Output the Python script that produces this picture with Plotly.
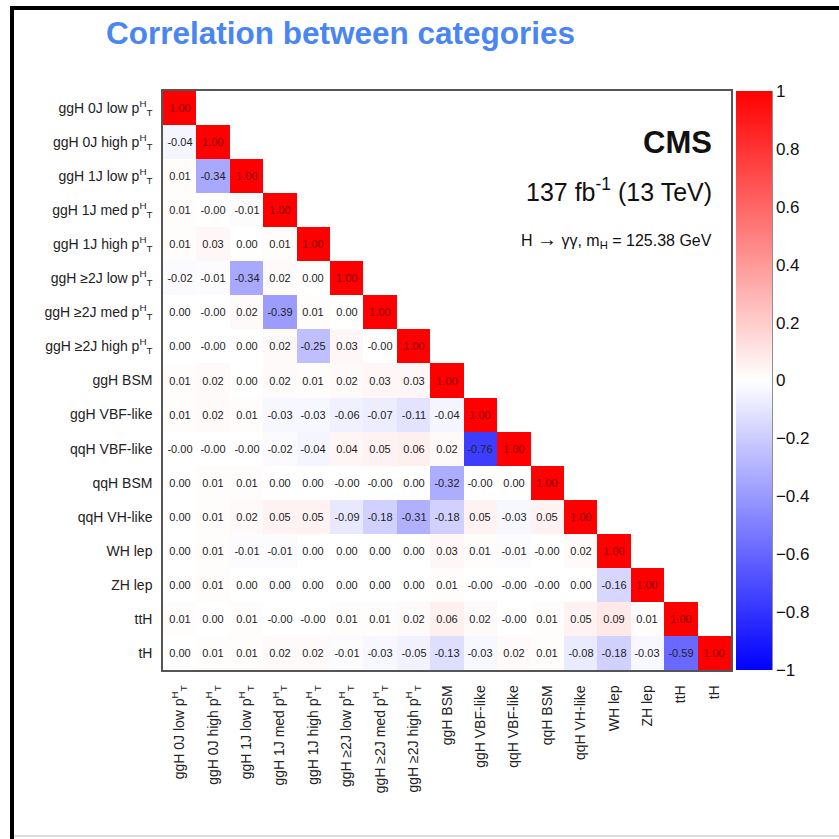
import plotly.graph_objects as go

# Category names (rows top-to-bottom, columns left-to-right)
categories = [
    "ggH 0J low p<sup>H</sup><sub>T</sub>",
    "ggH 0J high p<sup>H</sup><sub>T</sub>",
    "ggH 1J low p<sup>H</sup><sub>T</sub>",
    "ggH 1J med p<sup>H</sup><sub>T</sub>",
    "ggH 1J high p<sup>H</sup><sub>T</sub>",
    "ggH ≥2J low p<sup>H</sup><sub>T</sub>",
    "ggH ≥2J med p<sup>H</sup><sub>T</sub>",
    "ggH ≥2J high p<sup>H</sup><sub>T</sub>",
    "ggH BSM",
    "ggH VBF-like",
    "qqH VBF-like",
    "qqH BSM",
    "qqH VH-like",
    "WH lep",
    "ZH lep",
    "ttH",
    "tH",
]

# Lower-triangular correlation rows (-0.001 marks values that round to -0.00)
row_ggH0J_low = [1.00]
row_ggH0J_high = [-0.04, 1.00]
row_ggH1J_low = [0.01, -0.34, 1.00]
row_ggH1J_med = [0.01, -0.001, -0.01, 1.00]
row_ggH1J_high = [0.01, 0.03, 0.00, 0.01, 1.00]
row_ggH2J_low = [-0.02, -0.01, -0.34, 0.02, 0.00, 1.00]
row_ggH2J_med = [0.00, -0.001, 0.02, -0.39, 0.01, 0.00, 1.00]
row_ggH2J_high = [0.00, -0.001, 0.00, 0.02, -0.25, 0.03, -0.001, 1.00]
row_ggH_BSM = [0.01, 0.02, 0.00, 0.02, 0.01, 0.02, 0.03, 0.03, 1.00]
row_ggH_VBF = [0.01, 0.02, 0.01, -0.03, -0.03, -0.06, -0.07, -0.11, -0.04, 1.00]
row_qqH_VBF = [-0.001, -0.001, -0.001, -0.02, -0.04, 0.04, 0.05, 0.06, 0.02, -0.76, 1.00]
row_qqH_BSM = [0.00, 0.01, 0.01, 0.00, 0.00, -0.001, -0.001, 0.00, -0.32, -0.001, 0.00, 1.00]
row_qqH_VH = [0.00, 0.01, 0.02, 0.05, 0.05, -0.09, -0.18, -0.31, -0.18, 0.05, -0.03, 0.05, 1.00]
row_WH_lep = [0.00, 0.01, -0.01, -0.01, 0.00, 0.00, 0.00, 0.00, 0.03, 0.01, -0.01, -0.001, 0.02, 1.00]
row_ZH_lep = [0.00, 0.01, 0.00, 0.00, 0.00, 0.00, 0.00, 0.00, 0.01, -0.001, -0.001, -0.001, 0.00, -0.16, 1.00]
row_ttH = [0.01, 0.00, 0.01, -0.001, -0.001, 0.01, 0.01, 0.02, 0.06, 0.02, -0.001, 0.01, 0.05, 0.09, 0.01, 1.00]
row_tH = [0.00, 0.01, 0.01, 0.02, 0.02, -0.01, -0.03, -0.05, -0.13, -0.03, 0.02, 0.01, -0.08, -0.18, -0.03, -0.59, 1.00]

rows = [row_ggH0J_low, row_ggH0J_high, row_ggH1J_low, row_ggH1J_med, row_ggH1J_high,
        row_ggH2J_low, row_ggH2J_med, row_ggH2J_high, row_ggH_BSM, row_ggH_VBF,
        row_qqH_VBF, row_qqH_BSM, row_qqH_VH, row_WH_lep, row_ZH_lep, row_ttH, row_tH]

colorbar_ticks = [1, 0.8, 0.6, 0.4, 0.2, 0, -0.2, -0.4, -0.6, -0.8, -1]

n = len(categories)
z = [[r[j] if j < len(r) else None for j in range(n)] for r in rows]
# off-diagonal labels on the main map, diagonal labels on a separate overlay
text_off = [[(f"{r[j]:.2f}" if j < len(r) - 1 else "") for j in range(n)] for r in rows]
z_diag = [[(r[j] if j == len(r) - 1 else None) for j in range(n)] for r in rows]
text_diag = [[(f"{r[j]:.2f}" if j == len(r) - 1 else "") for j in range(n)] for r in rows]

# Plot area in pixels
W = H = 839
L, R, T, B = 163, 731, 91, 670


def px(x):
    return (x - L) / (R - L)


def py(y):
    return (B - y) / (B - T)


cscale = [[0, "rgb(0,0,255)"], [0.5, "rgb(255,255,255)"], [1, "rgb(255,0,0)"]]
cell_font = "Liberation Sans, Arial"

fig = go.Figure()
fig.add_trace(go.Heatmap(
    x=categories, y=categories, z=z,
    zmin=-1, zmax=1, colorscale=cscale,
    text=text_off, texttemplate="%{text}",
    textfont=dict(size=11, color="#222222", family=cell_font),
    hoverongaps=False,
    colorbar=dict(
        x=px(736), xanchor="left", y=0.5, yanchor="middle",
        len=1, lenmode="fraction", thickness=36, thicknessmode="pixels",
        xpad=0, ypad=0, outlinewidth=0,
        tickvals=colorbar_ticks,
        ticktext=[("−" + str(abs(t)) if t < 0 else str(t)) for t in colorbar_ticks],
        ticks="", tickfont=dict(size=17, color="#111", family=cell_font),
    ),
))
fig.add_trace(go.Heatmap(
    x=categories, y=categories, z=z_diag,
    zmin=-1, zmax=1, colorscale=cscale, showscale=False,
    text=text_diag, texttemplate="%{text}",
    textfont=dict(size=11, color="#8a0000", family=cell_font),
    hoverongaps=False,
))

axis_common = dict(
    type="category", showgrid=False, zeroline=False,
    showline=True, mirror=True, linecolor="#555", linewidth=1.5,
    ticks="", tickfont=dict(size=14, color="#222", family=cell_font),
)
fig.update_xaxes(**axis_common, tickangle=-90, categoryorder="array",
                 categoryarray=categories, ticklabelstandoff=8,
                 range=[-0.5, n - 0.5], autorange=False)
fig.update_yaxes(**axis_common, categoryorder="array",
                 categoryarray=categories, ticklabelstandoff=6,
                 range=[n - 0.5, -0.5], autorange=False)

fig.update_layout(
    width=W, height=H,
    margin=dict(l=L, r=W - R, t=T, b=H - B, pad=0),
    paper_bgcolor="white", plot_bgcolor="white",
    showlegend=False,
    font=dict(family=cell_font),
    title=dict(
        text="<b>Correlation between categories</b>",
        x=106 / W, xanchor="left", xref="container",
        y=1 - 33 / H, yanchor="middle", yref="container",
        font=dict(size=31.5, color="#4a86f2", family=cell_font),
    ),
    annotations=[
        dict(text="<b>CMS</b>", x=px(714), y=py(143), xref="paper", yref="paper",
             xanchor="right", yanchor="middle", showarrow=False,
             font=dict(size=31, color="#111")),
        dict(text="137 fb<sup>-1</sup> (13 TeV)", x=px(714), y=py(190), xref="paper", yref="paper",
             xanchor="right", yanchor="middle", showarrow=False,
             font=dict(size=25, color="#111")),
        dict(text="H <span style='font-size:20px'>→</span> γγ, m<sub>H</sub> = 125.38 GeV",
             x=px(714), y=py(240), xref="paper", yref="paper",
             xanchor="right", yanchor="middle", showarrow=False,
             font=dict(size=16, color="#111")),
    ],
    shapes=[
        # outer frame
        dict(type="line", xref="paper", yref="paper", x0=px(12), x1=px(12), y0=py(6), y1=py(839),
             line=dict(color="black", width=4)),
        dict(type="line", xref="paper", yref="paper", x0=px(10), x1=px(839), y0=py(8), y1=py(8),
             line=dict(color="black", width=4)),
        dict(type="line", xref="paper", yref="paper", x0=px(14), x1=px(839), y0=py(836), y1=py(836),
             line=dict(color="#d0d0d0", width=1.5)),
        # colour scale axis line
        dict(type="line", xref="paper", yref="paper", x0=px(772), x1=px(772), y0=0, y1=1,
             line=dict(color="#222", width=1)),
    ],
)

fig.write_html("out.html")
